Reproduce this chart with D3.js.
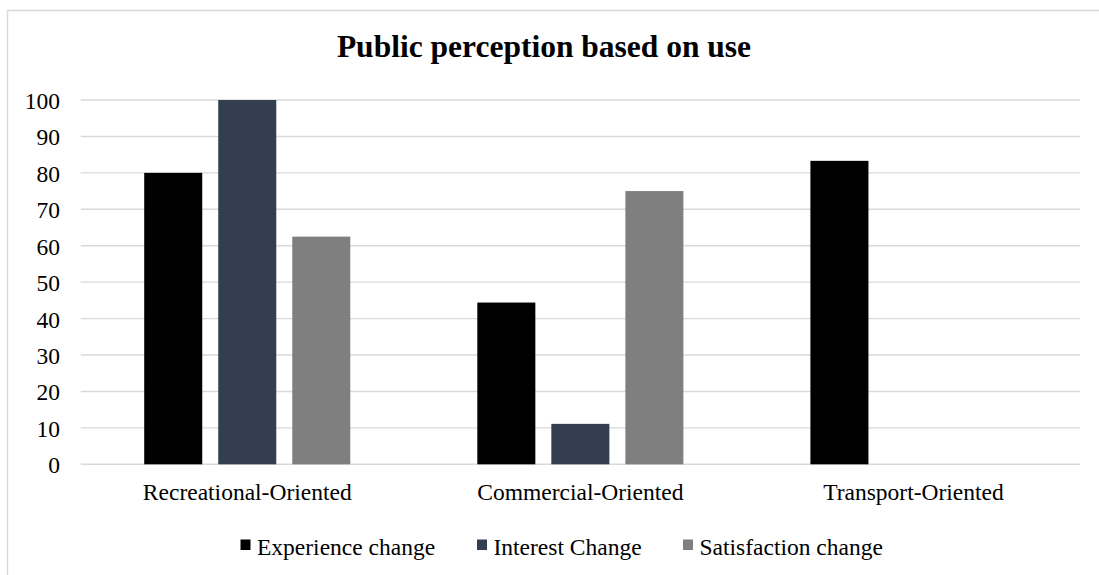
<!DOCTYPE html>
<html>
<head>
<meta charset="utf-8">
<script src="https://cdn.jsdelivr.net/npm/d3@7"></script>
<style>
  html, body { margin: 0; padding: 0; background: #fff; }
  svg { display: block; }
  svg text { font-family: "Liberation Serif", "Times New Roman", Times, "DejaVu Serif", serif; }
</style>
</head>
<body>
<svg id="chart" width="1099" height="575"></svg>
<script>
// Chart data
const categories = ["Recreational-Oriented", "Commercial-Oriented", "Transport-Oriented"];
const seriesNames = ["Experience change", "Interest Change", "Satisfaction change"];
const seriesColors = ["#000000", "#333f50", "#7f7f7f"];
const experienceChange = [80, 44.4, 83.3];
const interestChange = [100, 11.1, 0];
const satisfactionChange = [62.5, 75, 0];
const yTicks = [0, 10, 20, 30, 40, 50, 60, 70, 80, 90, 100];
const title = "Public perception based on use";

const seriesValues = [experienceChange, interestChange, satisfactionChange];

const svg = d3.select("#chart");
const W = 1099, H = 575;
const plot = { left: 80.7, right: 1080, top: 100, bottom: 464.3 };

// Chart area frame
svg.append("rect")
  .attr("x", 7.5).attr("y", 10.5)
  .attr("width", W + 10).attr("height", H + 10)
  .attr("fill", "#fff")
  .attr("stroke", "#d9d9d9").attr("stroke-width", 1.5);

// Title
svg.append("text")
  .attr("x", 544).attr("y", 57)
  .attr("text-anchor", "middle")
  .style("font-size", "31.5px").style("font-weight", "bold")
  .attr("fill", "#000")
  .text(title);

// Scales
const x0 = d3.scaleBand().domain(categories).range([plot.left, plot.right]).padding(0);
const x1 = d3.scaleBand().domain(seriesNames).range([0, x0.bandwidth()])
  .paddingInner(0.216).paddingOuter(0.858);
const y = d3.scaleLinear().domain([0, 100]).range([plot.bottom, plot.top]);

// Gridlines
svg.append("g").selectAll("line").data(yTicks).join("line")
  .attr("x1", plot.left).attr("x2", plot.right)
  .attr("y1", d => y(d)).attr("y2", d => y(d))
  .attr("stroke", "#d9d9d9").attr("stroke-width", 1.4);

// Y axis labels
const yAxis = d3.axisLeft(y).tickValues(yTicks).tickSize(0).tickPadding(0);
const gy = svg.append("g").attr("transform", "translate(60,0)").call(yAxis)
  .attr("font-family", null).attr("font-size", null);
gy.select(".domain").remove();
gy.selectAll("text")
  .style("font-size", "23.5px").attr("fill", "#000")
  .attr("dy", "0.36em");

// Bars
const groups = svg.append("g").selectAll("g").data(categories).join("g")
  .attr("transform", d => `translate(${x0(d)},0)`);
groups.selectAll("rect")
  .data((c, ci) => seriesNames.map((s, si) => ({ s, si, v: seriesValues[si][ci] })))
  .join("rect")
  .attr("x", d => x1(d.s))
  .attr("width", x1.bandwidth())
  .attr("y", d => y(d.v))
  .attr("height", d => y(0) - y(d.v))
  .attr("fill", d => seriesColors[d.si]);

// Category labels
const xAxis = d3.axisBottom(x0).tickSize(0).tickPadding(0);
const gx = svg.append("g").attr("transform", `translate(0,${plot.bottom})`).call(xAxis)
  .attr("font-family", null).attr("font-size", null);
gx.select(".domain").remove();
gx.selectAll("text")
  .style("font-size", "23.5px").attr("fill", "#000")
  .attr("dy", null).attr("y", 35.5);

// Legend
const legendItems = [
  { name: seriesNames[0], color: seriesColors[0], x: 240.5 },
  { name: seriesNames[1], color: seriesColors[1], x: 477 },
  { name: seriesNames[2], color: seriesColors[2], x: 683 }
];
const lg = svg.append("g").selectAll("g").data(legendItems).join("g")
  .attr("transform", d => `translate(${d.x},0)`);
lg.append("rect")
  .attr("x", 0).attr("y", 539.5).attr("width", 10).attr("height", 10.5)
  .attr("fill", d => d.color);
lg.append("text")
  .attr("x", 16.5).attr("y", 555)
  .style("font-size", "23.5px").attr("fill", "#000")
  .text(d => d.name);
</script>
</body>
</html>
